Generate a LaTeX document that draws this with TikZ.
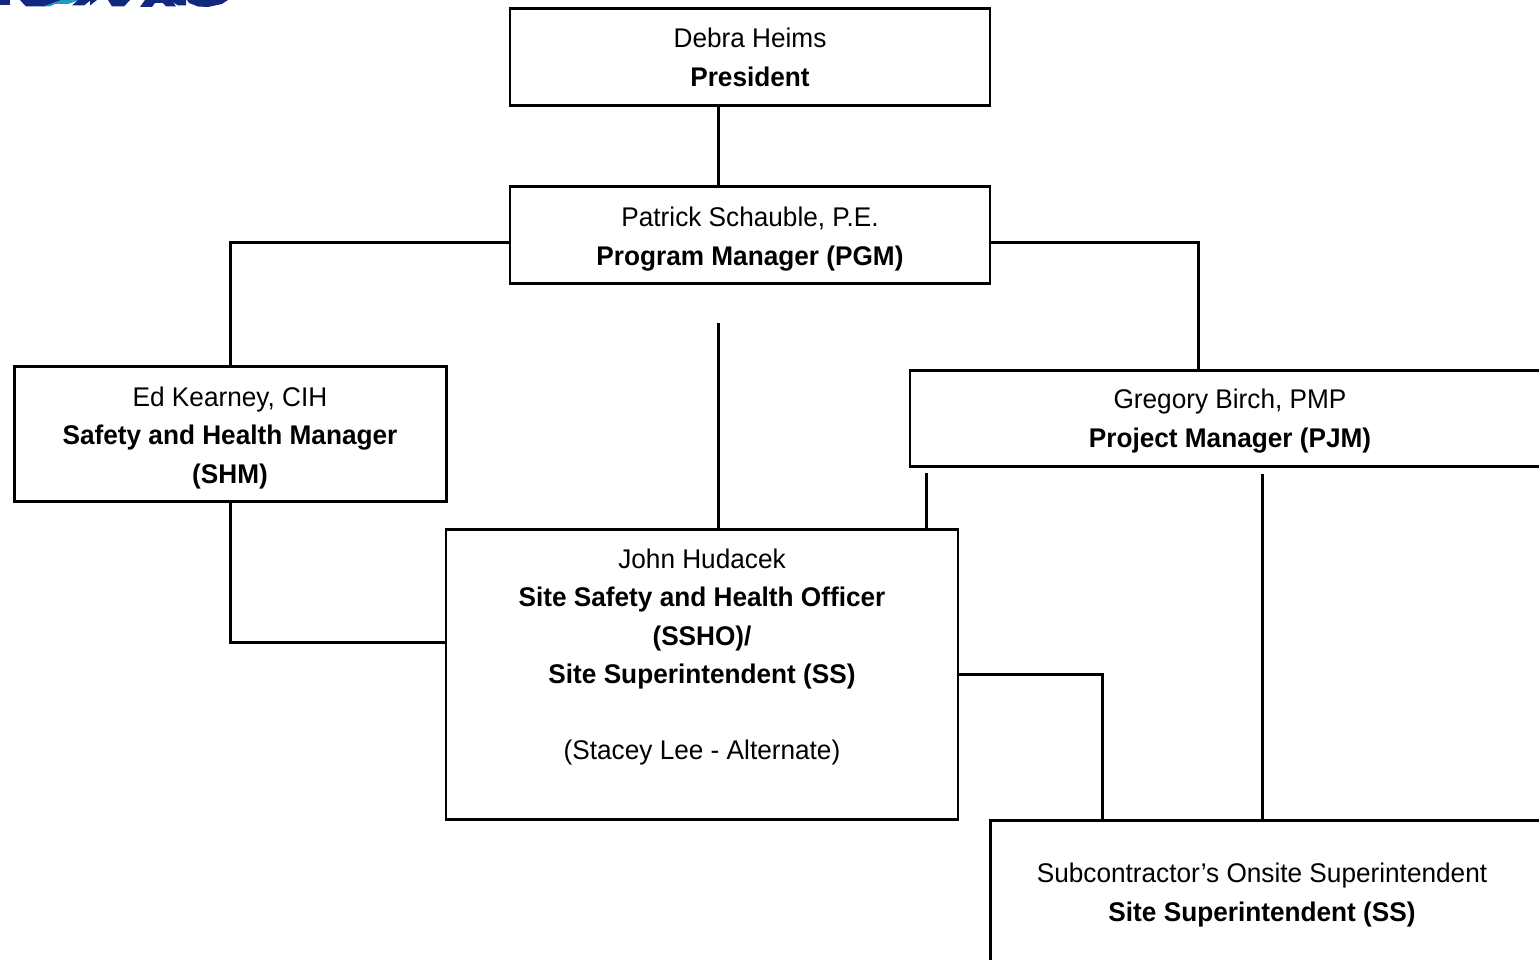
\documentclass[tikz,border=0pt]{standalone}
\usepackage{fontspec}
\setmainfont[FakeStretch=0.97]{Liberation Sans}
\definecolor{logoblue}{HTML}{12287F}
\definecolor{logoteal}{HTML}{1A9CC4}
\tikzset{
  x=1pt,y=-1pt,
  orgbox/.style={draw=black,line width=2.6pt,fill=white,inner sep=0pt,anchor=north west},
  link/.style={draw=black,line width=3pt},
  plain/.style={inner sep=0pt,align=center,font=\fontsize{27}{38.5}\selectfont}
}
\begin{document}
\begin{tikzpicture}
\useasboundingbox (0,0) rectangle (1539,960);
\clip (0,0) rectangle (1539,960);
% logo fragment
\fill[logoblue] (0,0) rectangle (10,5.5);
\fill[logoblue] (20,0) -- (62,0) -- (44,6.5) -- (26,6.5) -- cycle;
\fill[logoteal] (43,6.5) -- (62,0) -- (80,0) -- (68,4) -- (55,4) -- (50,6.5) -- cycle;
\fill[logoblue] (72,5.5) -- (84,5.5) -- (91,0) -- (78,0) -- cycle;
\fill[logoblue] (90,5.5) -- (97,0) -- (90,0) -- cycle;
\fill[logoblue] (108,0) -- (130,0) -- (124,6.5) -- (112,6.5) -- cycle;
\fill[logoblue] (140,7) -- (145,0) -- (172,0) -- (176,6.5) -- (166,6.5) -- (163,3) -- (155,3) -- (152,7) -- cycle;
\fill[logoblue] (170,0) -- (186,0) -- (186,5.5) -- (178,5.5) -- cycle;
\fill[logoblue] (187,0) -- (228,0) -- (222,4) -- (208,7) -- (198,6.5) -- (189,3) -- cycle;
% boxes
\node[orgbox,minimum width=480pt,minimum height=97pt] (debra) at (508.5,7) {};
\node[orgbox,minimum width=480pt,minimum height=97pt] (patrick) at (508.5,185) {};
\node[orgbox,minimum width=432pt,minimum height=135pt] (ed) at (13,365) {};
\node[orgbox,minimum width=640pt,minimum height=96pt] (greg) at (908.5,369) {};
\node[orgbox,minimum width=512pt,minimum height=290pt] (john) at (444.5,528) {};
\node[orgbox,minimum width=600pt,minimum height=144pt] (sub) at (989,819) {};
% texts
\node[plain] (debratext) at (750,57.5) {Debra Heims\\\textbf{President}};
\node[plain] (patricktext) at (750,239) {Patrick Schauble, P.E.\\\textbf{Program Manager (PGM)}};
\node[plain] (edtext) at (230,438) {Ed Kearney, CIH\\\textbf{Safety and Health Manager}\\\textbf{(SHM)}};
\node[plain] (gregtext) at (1230,421) {Gregory Birch, PMP\\\textbf{Project Manager (PJM)}};
\node[plain] (johntext) at (702,657) {John Hudacek\\\textbf{Site Safety and Health Officer}\\\textbf{(SSHO)/}\\\textbf{Site Superintendent (SS)}\\[37.5pt](Stacey Lee - Alternate)};
\node[plain] (subtext) at (1262,895) {Subcontractor's Onsite Superintendent\\\textbf{Site Superintendent (SS)}};
% free ends
\coordinate (pgmdrop) at (718,323);
\coordinate (gregleft) at (926,473);
\coordinate (gregright) at (1262,474);
% connectors
\draw[link] (debra.south -| pgmdrop) -- (patrick.north -| pgmdrop);
\draw[link] (pgmdrop) -- (john.north -| pgmdrop);
\draw[link] (patrick.west |- 0,242) -- (230,242) -- (ed.north -| 230,0);
\draw[link] (patrick.east |- 0,242) -- (1198,242) -- (greg.north -| 1198,0);
\draw[link] (ed.south -| 230,0) -- (230,642) -- (john.west |- 0,642);
\draw[link] (gregleft) -- (john.north -| gregleft);
\draw[link] (gregright) -- (sub.north -| gregright);
\draw[link] (john.east |- 0,674) -- (1102,674) -- (sub.north -| 1102,0);
\end{tikzpicture}
\end{document}
